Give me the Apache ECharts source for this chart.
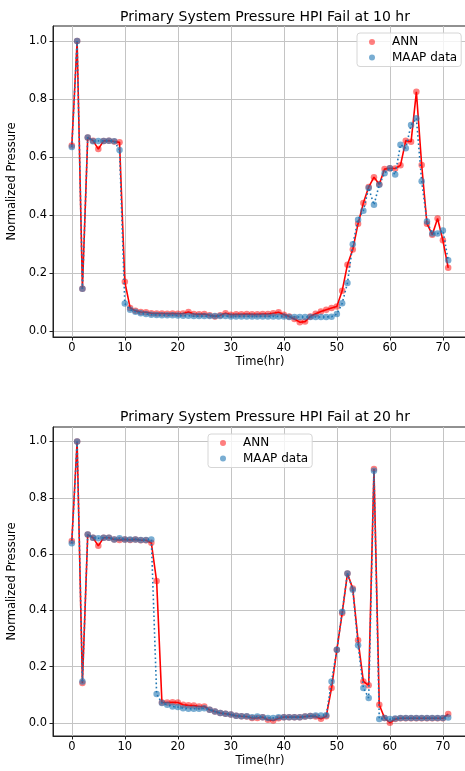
<!DOCTYPE html>
<html>
<head>
<meta charset="utf-8">
<script src="https://cdn.jsdelivr.net/npm/echarts@6/dist/echarts.min.js"></script>
<style>html,body{margin:0;padding:0;background:#fff}#c{width:465px;height:771px}</style>
</head>
<body>
<div id="c"></div>
<script>
// ---- data ----
const hours = Array.from({length: 72}, (_, i) => i);
const xTicks = [0, 10, 20, 30, 40, 50, 60, 70];
const yTicks = [0, 0.2, 0.4, 0.6, 0.8, 1.0];
const titles = ['Primary System Pressure HPI Fail at 10 hr', 'Primary System Pressure HPI Fail at 20 hr'];
const seriesNames = ['ANN', 'MAAP data'];

const ann10 = [0.640, 1.000, 0.147, 0.668, 0.657, 0.628, 0.656, 0.657, 0.654, 0.651,
  0.171, 0.081, 0.071, 0.067, 0.066, 0.063, 0.062, 0.062, 0.061, 0.062,
  0.061, 0.062, 0.067, 0.060, 0.059, 0.060, 0.056, 0.052, 0.056, 0.063,
  0.058, 0.059, 0.059, 0.060, 0.059, 0.059, 0.060, 0.060, 0.063, 0.066,
  0.058, 0.052, 0.043, 0.032, 0.034, 0.052, 0.061, 0.069, 0.075, 0.081,
  0.086, 0.140, 0.230, 0.282, 0.371, 0.442, 0.497, 0.531, 0.507, 0.559,
  0.562, 0.561, 0.572, 0.657, 0.653, 0.825, 0.573, 0.371, 0.333, 0.389,
  0.314, 0.219];
const maap10 = [0.635, 1.000, 0.147, 0.668, 0.655, 0.656, 0.656, 0.657, 0.655, 0.625,
  0.096, 0.075, 0.068, 0.063, 0.060, 0.058, 0.057, 0.056, 0.056, 0.056,
  0.055, 0.054, 0.054, 0.053, 0.053, 0.053, 0.053, 0.053, 0.053, 0.053,
  0.052, 0.052, 0.052, 0.052, 0.052, 0.052, 0.052, 0.052, 0.052, 0.052,
  0.052, 0.050, 0.050, 0.050, 0.050, 0.050, 0.050, 0.050, 0.050, 0.051,
  0.060, 0.097, 0.167, 0.300, 0.385, 0.416, 0.494, 0.436, 0.505, 0.545,
  0.562, 0.540, 0.643, 0.631, 0.711, 0.734, 0.517, 0.379, 0.337, 0.337,
  0.348, 0.245];
const ann20 = [0.646, 1.000, 0.141, 0.669, 0.658, 0.629, 0.658, 0.658, 0.652, 0.650,
  0.652, 0.650, 0.652, 0.649, 0.649, 0.640, 0.504, 0.072, 0.072, 0.073,
  0.072, 0.064, 0.062, 0.061, 0.058, 0.058, 0.046, 0.040, 0.035, 0.032,
  0.029, 0.025, 0.023, 0.022, 0.017, 0.017, 0.020, 0.011, 0.008, 0.016,
  0.020, 0.020, 0.020, 0.020, 0.022, 0.024, 0.022, 0.014, 0.023, 0.124,
  0.260, 0.389, 0.531, 0.477, 0.293, 0.147, 0.133, 0.902, 0.064, 0.017,
  0.000, 0.013, 0.016, 0.016, 0.016, 0.016, 0.016, 0.016, 0.016, 0.016,
  0.016, 0.031];
const maap20 = [0.638, 1.000, 0.147, 0.669, 0.658, 0.656, 0.658, 0.658, 0.652, 0.656,
  0.652, 0.652, 0.652, 0.650, 0.650, 0.652, 0.102, 0.070, 0.064, 0.058,
  0.056, 0.052, 0.050, 0.050, 0.050, 0.052, 0.046, 0.040, 0.035, 0.032,
  0.029, 0.025, 0.023, 0.023, 0.020, 0.022, 0.020, 0.017, 0.017, 0.020,
  0.020, 0.020, 0.020, 0.020, 0.022, 0.024, 0.026, 0.026, 0.027, 0.147,
  0.260, 0.395, 0.531, 0.473, 0.276, 0.124, 0.088, 0.896, 0.013, 0.017,
  0.013, 0.015, 0.017, 0.017, 0.017, 0.017, 0.017, 0.017, 0.017, 0.017,
  0.017, 0.019];

// ---- chart ----
const FONT = 'DejaVu Sans';
const pairs = (ys) => hours.map((h, i) => [h, ys[i]]);
const chart = echarts.init(document.getElementById('c'), null, {renderer: 'canvas'});

const grids = [
  {left: 53, top: 26, width: 414, height: 311},
  {left: 53, top: 427, width: 414, height: 309}
];
const yRanges = [[-0.019, 1.0516], [-0.047, 1.0516]];
const gridStyle = {show: true, lineStyle: {color: '#c4c4c4', width: 1}};

function xAxis(i) {
  return {
    type: 'value', gridIndex: i, min: -3.55, max: 74.55,
    name: 'Time(hr)', nameLocation: 'middle', nameGap: 19,
    nameTextStyle: {fontFamily: FONT, fontSize: 11.5, color: '#000'},
    axisLine: {show: true, onZero: false, lineStyle: {color: '#222', width: 1}},
    axisTick: {show: true, length: 3.5, customValues: xTicks, lineStyle: {color: '#222'}},
    axisLabel: {customValues: xTicks, margin: 5, fontFamily: FONT, fontSize: 11.5, color: '#000'},
    splitLine: gridStyle
  };
}
function yAxis(i) {
  return {
    type: 'value', gridIndex: i, min: yRanges[i][0], max: yRanges[i][1],
    name: 'Normalized Pressure', nameLocation: 'middle', nameGap: 32, nameRotate: 90,
    nameTextStyle: {fontFamily: FONT, fontSize: 11.5, color: '#000'},
    axisLine: {show: true, onZero: false, lineStyle: {color: '#222', width: 1}},
    axisTick: {show: true, length: 3.5, customValues: yTicks, lineStyle: {color: '#222'}},
    axisLabel: {customValues: yTicks, margin: 6, fontFamily: FONT, fontSize: 11.5, color: '#000',
      formatter: (v) => v.toFixed(1)},
    splitLine: gridStyle
  };
}
function legend(i, left, top) {
  return {
    show: true, orient: 'vertical', left: left, top: top,
    data: seriesNames.map(n => ({name: n, icon: 'circle'})),
    itemWidth: 6, itemHeight: 6, itemGap: 3.5,
    padding: [3, 4, 3, 12],
    textStyle: {fontFamily: FONT, fontSize: 12, color: '#000', padding: [0, 0, 0, 12]},
    backgroundColor: 'rgba(255,255,255,0.8)', borderColor: '#d6d6d6', borderWidth: 1, borderRadius: 3,
    selectedMode: false
  };
}
function annSeries(i, ys) {
  return {
    type: 'line', name: 'ANN', xAxisIndex: i, yAxisIndex: i, data: pairs(ys),
    symbol: 'circle', symbolSize: 6.5, showSymbol: true,
    itemStyle: {color: 'rgba(255,0,0,0.5)'},
    lineStyle: {color: '#ff0000', width: 1.6}, z: 2
  };
}
function maapSeries(i, ys) {
  return {
    type: 'line', name: 'MAAP data', xAxisIndex: i, yAxisIndex: i, data: pairs(ys),
    symbol: 'circle', symbolSize: 6.5, showSymbol: true,
    itemStyle: {color: 'rgba(31,119,180,0.6)'},
    lineStyle: {color: '#1f77b4', width: 1.6, type: [1.6, 2.6]}, z: 3
  };
}

chart.setOption({
  animation: false,
  backgroundColor: '#fff',
  title: [
    {text: titles[0], left: 260, top: 5, textAlign: 'center',
      textStyle: {fontFamily: FONT, fontSize: 14, fontWeight: 'normal', color: '#000'}},
    {text: titles[1], left: 260, top: 405, textAlign: 'center',
      textStyle: {fontFamily: FONT, fontSize: 14, fontWeight: 'normal', color: '#000'}}
  ],
  legend: [legend(0, 357, 33), legend(1, 208, 434)],
  grid: grids.map(g => Object.assign({show: true, borderColor: '#222', borderWidth: 1,
    backgroundColor: 'transparent', outerBoundsMode: 'none', containLabel: false}, g)),
  xAxis: [xAxis(0), xAxis(1)],
  yAxis: [yAxis(0), yAxis(1)],
  series: [annSeries(0, ann10), maapSeries(0, maap10), annSeries(1, ann20), maapSeries(1, maap20)]
});
</script>
</body>
</html>
